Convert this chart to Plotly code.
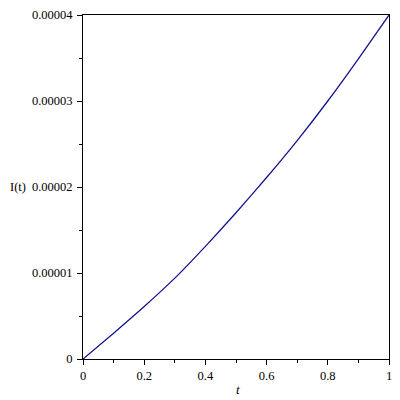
import plotly.graph_objects as go

# Data
t_values = [0.0, 0.1, 0.2, 0.3, 0.4, 0.5, 0.6, 0.7, 0.8, 0.9, 1.0]
I_values = [0.0, 0.30e-5, 0.61e-5, 0.94e-5, 1.31e-5, 1.70e-5, 2.11e-5, 2.54e-5, 3.00e-5, 3.49e-5, 4.0e-5]

x_tickvals = [0, 0.2, 0.4, 0.6, 0.8, 1]
x_ticktext = ["0", "0.2", "0.4", "0.6", "0.8", "1"]
x_minor = [0.1, 0.3, 0.5, 0.7, 0.9]
y_tickvals = [0, 1e-5, 2e-5, 3e-5, 4e-5]
y_ticktext = ["0", "0.00001", "0.00002", "0.00003", "0.00004"]
y_minor = [0.5e-5, 1.5e-5, 2.5e-5, 3.5e-5]

FONT = "Liberation Serif, Times New Roman, serif"

fig = go.Figure()
fig.add_trace(go.Scatter(
    x=t_values, y=I_values, mode="lines",
    line=dict(color="#14148c", width=1.3, shape="spline", smoothing=0.6),
    hoverinfo="skip", showlegend=False,
))

fig.update_layout(
    width=400, height=400,
    margin=dict(l=83, r=8, t=12, b=41),
    paper_bgcolor="white", plot_bgcolor="white",
    font=dict(family=FONT, size=12, color="black"),
    showlegend=False,
)

fig.update_xaxes(
    range=[0, 1], showgrid=False, zeroline=False,
    showline=True, linecolor="black", linewidth=1, mirror=True,
    ticks="outside", ticklen=5, tickwidth=1, tickcolor="black",
    tickvals=x_tickvals, ticktext=x_ticktext,
    minor=dict(ticks="outside", ticklen=3, tickcolor="black", tickvals=x_minor),
    tickfont=dict(family=FONT, size=12.5),
)
fig.update_yaxes(
    range=[0, 4e-5], showgrid=False, zeroline=False,
    showline=True, linecolor="black", linewidth=1, mirror=True,
    ticks="outside", ticklen=5, tickwidth=1, tickcolor="black",
    tickvals=y_tickvals, ticktext=y_ticktext, ticklabelstandoff=2,
    minor=dict(ticks="outside", ticklen=3, tickcolor="black", tickvals=y_minor),
    tickfont=dict(family=FONT, size=12.5),
)

fig.add_annotation(
    text="I(t)", xref="paper", yref="paper", x=-0.18, y=0.5,
    xanchor="right", yanchor="middle", showarrow=False,
    font=dict(family=FONT, size=12.5, color="black"),
)
fig.add_annotation(
    text="<i>t</i>", xref="paper", yref="paper", x=0.505, y=-0.06,
    xanchor="center", yanchor="top", showarrow=False,
    font=dict(family=FONT, size=13, color="black"),
)

fig.write_html("out.html", config={"displayModeBar": False, "staticPlot": True})

# remove the default body margin so the figure sits at the page's top-left corner
with open("out.html", "r", encoding="utf-8") as f:
    html = f.read()
html = html.replace("<body>", '<body style="margin:0;padding:0;overflow:hidden">', 1)
with open("out.html", "w", encoding="utf-8") as f:
    f.write(html)
